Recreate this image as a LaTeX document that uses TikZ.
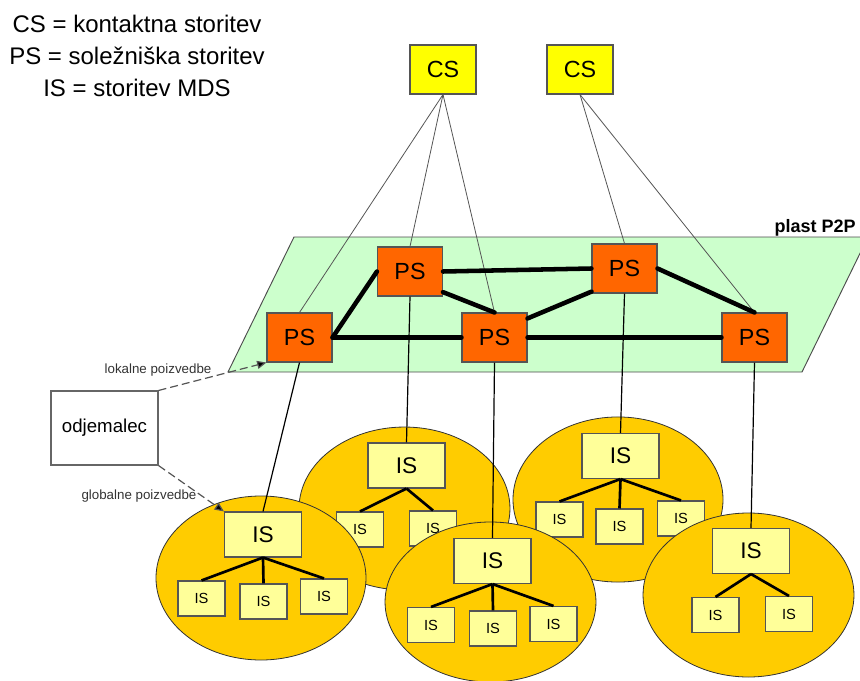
\documentclass[tikz,border=0pt]{standalone}
\usepackage{fontspec}
\setmainfont{Liberation Sans}
\usetikzlibrary{arrows.meta}
\definecolor{planefill}{HTML}{CCFFCC}
\definecolor{psfill}{HTML}{FF6600}
\definecolor{csfill}{HTML}{FFFF00}
\definecolor{isfill}{HTML}{FFFF99}
\definecolor{groupfill}{HTML}{FFCC00}
\definecolor{edgegray}{HTML}{555555}
\begin{document}
\begin{tikzpicture}[x=0.75pt,y=-0.75pt,
  box/.style={draw=edgegray, line width=0.8pt, inner sep=0pt},
  csbox/.style={box, fill=csfill, minimum width=49.5pt, minimum height=36.75pt, font=\fontsize{17.5}{20}\selectfont},
  psbox/.style={box, fill=psfill, minimum width=48.75pt, minimum height=36.75pt, font=\fontsize{17.5}{20}\selectfont},
  isroot/.style={box, fill=isfill, minimum width=57.75pt, minimum height=33.75pt, font=\fontsize{17}{20}\selectfont},
  isleaf/.style={box, fill=isfill, minimum width=35.25pt, minimum height=26.25pt, font=\fontsize{11}{13}\selectfont},
  group/.style={draw=black!80, line width=0.6pt, fill=groupfill},
  ring/.style={line width=3.4pt, line cap=round},
  tree/.style={line width=2pt},
  uplink/.style={draw=edgegray, line width=0.6pt},
  downlink/.style={line width=0.9pt},
  query/.style={draw=edgegray, line width=0.9pt, dash pattern=on 6pt off 3pt, -{Triangle[length=7pt,width=6pt,fill=black]}},
  qlabel/.style={font=\fontsize{10}{12}\selectfont, text=black!80, inner sep=0pt},
  legend/.style={font=\fontsize{18}{22}\selectfont, anchor=base, inner sep=0pt}
]
\useasboundingbox (0,0) rectangle (860,681);

% legend
\node[legend] (leg1) at (137,33) {CS = kontaktna storitev};
\node[legend] (leg2) at (137,65) {PS = soležniška storitev};
\node[legend] (leg3) at (137,97) {IS = storitev MDS};

% P2P layer
\begin{scope}
  \clip (0,0) rectangle (860,681);
  \draw[draw=black!70, line width=0.7pt, fill=planefill] (294,237) -- (868,237) -- (802,372) -- (228,372) -- cycle;
\end{scope}
\node[font=\bfseries\fontsize{13.5}{16}\selectfont, anchor=base east, inner sep=0pt] (layer) at (856,233) {plast P2P};

% contact and peer services
\node[csbox] (cs1) at (443,69.5) {CS};
\node[csbox] (cs2) at (580,69.5) {CS};
\node[psbox] (ps1) at (299.5,337.5) {PS};
\node[psbox] (ps2) at (410,271.5) {PS};
\node[psbox] (ps3) at (494.5,337.5) {PS};
\node[psbox] (ps4) at (624.5,268.5) {PS};
\node[psbox] (ps5) at (754.5,337.5) {PS};

\draw[uplink] (cs1.south) -- (ps1.north);
\draw[uplink] (cs1.south) -- (ps2.north);
\draw[uplink] (cs1.south) -- (ps3.north);
\draw[uplink] (cs2.south) -- (ps4.north);
\draw[uplink] (cs2.south) -- (ps5.north);

\draw[ring] (ps1.east) -- (ps2.west);
\draw[ring] (ps1.east) -- (ps3.west);
\draw[ring] (ps2.east) -- (ps4.west);
\draw[ring] (ps2.-32) -- (ps3.north);
\draw[ring] (ps3.30) -- (ps4.-145);
\draw[ring] (ps3.east) -- (ps5.west);
\draw[ring] (ps4.east) -- (ps5.north);

% MDS groups, back row
\path[group] (404.5,508.5) ellipse [x radius=79.1pt, y radius=61.1pt];
\node[isroot] (r2) at (406.5,465.5) {IS};
\node[isleaf] (l21) at (360,529.5) {IS};
\node[isleaf] (l22) at (433,528.5) {IS};
\draw[tree] (r2.south) -- (l21.north);
\draw[tree] (r2.south) -- (l22.north);

\path[group] (618,499.5) ellipse [x radius=78.75pt, y radius=61.9pt];
\node[isroot] (r3) at (620.5,456) {IS};
\node[isleaf] (l31) at (559.5,519.5) {IS};
\node[isleaf] (l32) at (619.5,526.5) {IS};
\node[isleaf] (l33) at (681,518.5) {IS};
\draw[tree] (r3.south) -- (l31.north);
\draw[tree] (r3.south) -- (l32.north);
\draw[tree] (r3.south) -- (l33.north);

% MDS groups, front row
\path[group] (261,578) ellipse [x radius=78.75pt, y radius=61.5pt];
\node[isroot] (r1) at (263,534.5) {IS};
\node[isleaf] (l11) at (201.5,598.5) {IS};
\node[isleaf] (l12) at (263.5,601.5) {IS};
\node[isleaf] (l13) at (324,596.5) {IS};
\draw[tree] (r1.south) -- (l11.north);
\draw[tree] (r1.south) -- (l12.north);
\draw[tree] (r1.south) -- (l13.north);

\path[group] (490.5,602) ellipse [x radius=79.1pt, y radius=60pt];
\node[isroot] (r4) at (492.5,561) {IS};
\node[isleaf] (l41) at (431,625) {IS};
\node[isleaf] (l42) at (493,628.5) {IS};
\node[isleaf] (l43) at (553.5,624) {IS};
\draw[tree] (r4.south) -- (l41.north);
\draw[tree] (r4.south) -- (l42.north);
\draw[tree] (r4.south) -- (l43.north);

\path[group] (748.5,595) ellipse [x radius=79.1pt, y radius=61.5pt];
\node[isroot] (r5) at (751,551) {IS};
\node[isleaf] (l51) at (715.5,615) {IS};
\node[isleaf] (l52) at (789,614) {IS};
\draw[tree] (r5.south) -- (l51.north);
\draw[tree] (r5.south) -- (l52.north);

% peer services to their MDS roots
\draw[downlink] (ps1.south) -- (r1.north);
\draw[downlink] (ps2.south) -- (r2.north);
\draw[downlink] (ps3.south) -- (r4.north);
\draw[downlink] (ps4.south) -- (r3.north);
\draw[downlink] (ps5.south) -- (r5.north);

% client and its queries
\node[box, draw=black!60, fill=white, minimum width=80.25pt, minimum height=55.5pt, font=\fontsize{14}{16}\selectfont] (client) at (104.5,428) {odjemalec};
\draw[query] (client.north east) -- (ps1.south west);
\draw[query] (client.south east) -- (r1.north west);
\node[qlabel] (lq) at (158,370) {lokalne poizvedbe};
\node[qlabel] (gq) at (139,496) {globalne poizvedbe};
\end{tikzpicture}
\end{document}
